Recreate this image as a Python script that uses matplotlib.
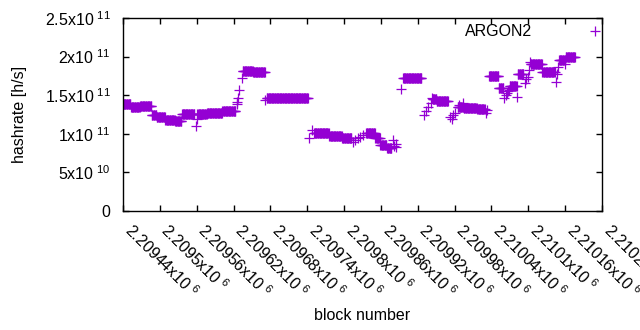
import numpy as np
import matplotlib.pyplot as plt
from matplotlib.ticker import FuncFormatter

plt.rcParams['font.family'] = ['Liberation Sans', 'DejaVu Sans']
plt.rcParams['mathtext.default'] = 'regular'

# runs of blocks with (nearly) constant hashrate: first block, last block, rate in 1e11 h/s
run_start = [2209441, 2209453, 2209468, 2209487, 2209495, 2209509, 2209525, 2209536,
             2209561, 2209577, 2209602, 2209619, 2209635, 2209652, 2209674, 2209751,
             2209776, 2209797, 2209836, 2209851, 2209859, 2209870, 2209896, 2209944,
             2209951, 2209985, 2209995, 2210017, 2210036, 2210052, 2210070, 2210083,
             2210104, 2210123, 2210150, 2210161]
run_end = [2209452, 2209467, 2209486, 2209494, 2209508, 2209524, 2209535, 2209556,
           2209576, 2209601, 2209618, 2209623, 2209651, 2209671, 2209741, 2209775,
           2209796, 2209812, 2209850, 2209858, 2209869, 2209877, 2209926, 2209950,
           2209969, 2209994, 2210016, 2210029, 2210051, 2210059, 2210081, 2210092,
           2210122, 2210143, 2210160, 2210176]
run_rate = [1.39, 1.345, 1.36, 1.25, 1.22, 1.18, 1.165, 1.256,
            1.26, 1.275, 1.30, 1.295, 1.815, 1.80, 1.47, 1.006,
            0.975, 0.94, 1.006, 0.94, 0.855, 0.81, 1.72, 1.445,
            1.425, 1.35, 1.33, 1.317, 1.75, 1.59, 1.625, 1.77,
            1.91, 1.80, 1.955, 1.99]

# single blocks in between the runs
pt_block = [2209440, 2209559, 2209560, 2209625, 2209626, 2209627, 2209629, 2209633,
            2209672, 2209743, 2209747, 2209815, 2209818, 2209822, 2209826, 2209830,
            2209880, 2209881, 2209884, 2209885, 2209892, 2209930, 2209933, 2209937,
            2209941, 2209943, 2209972, 2209975, 2209978, 2209980, 2209987, 2209994,
            2210031, 2210032, 2210061, 2210063, 2210065, 2210067, 2210069, 2210082,
            2210094, 2210097, 2210099, 2210101, 2210103, 2210145, 2210147, 2210149,
            2210160]
pt_rate = [1.38, 1.10, 1.19, 1.38, 1.415, 1.46, 1.57, 1.72,
           1.44, 0.94, 1.05, 0.90, 0.92, 0.94, 0.965, 0.99,
           0.92, 0.84, 0.87, 0.825, 1.575, 1.245, 1.29, 1.35,
           1.40, 1.46, 1.22, 1.19, 1.24, 1.265, 1.37, 1.395,
           1.265, 1.31, 1.47, 1.50, 1.525, 1.55, 1.57, 1.48,
           1.655, 1.71, 1.74, 1.83, 1.935, 1.675, 1.78, 1.86,
           1.905]

x_ticks = [2209440, 2209500, 2209560, 2209620, 2209680, 2209740, 2209800,
           2209860, 2209920, 2209980, 2210040, 2210100, 2210160, 2210220]
y_ticks = [0, 5e10, 1e11, 1.5e11, 2e11, 2.5e11]

blocks = np.concatenate([np.arange(s, e + 1) for s, e in zip(run_start, run_end)] + [np.array(pt_block)])
rates = np.concatenate([np.full(e - s + 1, r) for s, e, r in zip(run_start, run_end, run_rate)]
                       + [np.array(pt_rate)]) * 1e11

FS = 11.5


def sci(v, pos=None):
    # gnuplot style "1.5x10^{11}"
    if v == 0:
        return '0'
    e = int(np.floor(np.log10(abs(v)) + 1e-9))
    m = v / 10 ** e
    return '%gx10$^{\\ %d}$' % (round(m, 6), e)


fig = plt.figure(figsize=(6.4, 3.3), dpi=100)
ax = fig.add_axes([123 / 640, 1 - 211 / 330, 479 / 640, 193 / 330])

ax.plot(blocks, rates, '+', color='#9400d3', ms=6.5, mew=0.9, label='ARGON2')

ax.set_xlim(2209440, 2210220)
ax.set_ylim(0, 2.5e11)
ax.set_xticks(x_ticks)
ax.set_yticks(y_ticks)
ax.xaxis.set_major_formatter(FuncFormatter(sci))
ax.yaxis.set_major_formatter(FuncFormatter(sci))
ax.tick_params(direction='in', top=True, right=True, length=4, width=1, labelsize=FS)
ax.tick_params(axis='y', pad=9)
ax.tick_params(axis='x', pad=15)
for lab in ax.get_xticklabels():
    lab.set_rotation(-45)
    lab.set_ha('left')
    lab.set_va('baseline')
    lab.set_rotation_mode('anchor')
for s in ax.spines.values():
    s.set_linewidth(1)

ax.set_xlabel('block number', fontsize=FS)
ax.set_ylabel('hashrate [h/s]', fontsize=FS)
ax.xaxis.set_label_coords(0.5, -0.505)
ax.yaxis.set_label_coords(-0.2, 0.5)

ax.legend(loc='center right', bbox_to_anchor=(616 / 640, 1 - 32 / 330),
          bbox_transform=fig.transFigure, frameon=False, markerfirst=False,
          handlelength=2.6, handletextpad=2.65, borderpad=0, borderaxespad=0, fontsize=FS)

fig.savefig('out.png', dpi=100)
